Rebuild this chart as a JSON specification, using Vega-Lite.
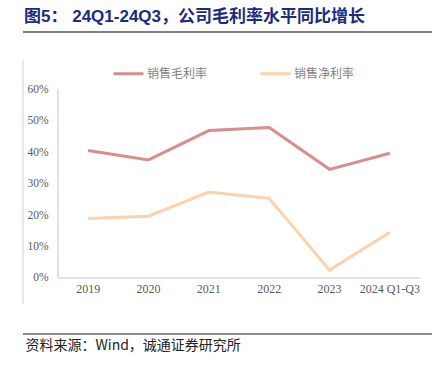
{
  "$schema": "https://vega.github.io/schema/vega-lite/v6.json",
  "width": 409,
  "height": 302,
  "autosize": {"type": "none"},
  "padding": {"left": 23, "top": 32, "right": 6, "bottom": 33},
  "background": "white",
  "title": {
    "text": "图5：  24Q1-24Q3，公司毛利率水平同比增长",
    "anchor": "start",
    "offset": 5,
    "dx": 2,
    "font": "Liberation Sans, Noto Sans CJK SC",
    "fontSize": 17,
    "fontWeight": "bold",
    "color": "#1b2c7e"
  },
  "config": {"view": {"stroke": null}},
  "data": {
    "values": [
      {"year": "2019", "metric": "销售毛利率", "value": 0.405},
      {"year": "2020", "metric": "销售毛利率", "value": 0.375},
      {"year": "2021", "metric": "销售毛利率", "value": 0.468},
      {"year": "2022", "metric": "销售毛利率", "value": 0.478},
      {"year": "2023", "metric": "销售毛利率", "value": 0.345},
      {"year": "2024 Q1-Q3", "metric": "销售毛利率", "value": 0.396},
      {"year": "2019", "metric": "销售净利率", "value": 0.189},
      {"year": "2020", "metric": "销售净利率", "value": 0.196},
      {"year": "2021", "metric": "销售净利率", "value": 0.273},
      {"year": "2022", "metric": "销售净利率", "value": 0.253},
      {"year": "2023", "metric": "销售净利率", "value": 0.025},
      {"year": "2024 Q1-Q3", "metric": "销售净利率", "value": 0.145}
    ]
  },
  "layer": [
    {
      "data": {"values": [{}]},
      "mark": {"type": "rule", "color": "#808080", "strokeWidth": 2},
      "encoding": {"y": {"datum": 0.781, "type": "quantitative"}}
    },
    {
      "data": {"values": [{}]},
      "mark": {"type": "rule", "color": "#8c8c8c", "strokeWidth": 2},
      "encoding": {"y": {"datum": -0.1778, "type": "quantitative"}}
    },
    {
      "data": {"values": [{}]},
      "mark": {"type": "rule", "color": "#d0d0d0", "strokeWidth": 1},
      "encoding": {
        "x": {"datum": "2019", "type": "nominal", "bandPosition": -0.58},
        "y": {"datum": 0.692, "type": "quantitative"},
        "y2": {"datum": -0.0825}
      }
    },
    {
      "data": {"values": [{}]},
      "mark": {"type": "rule", "color": "#d9d9d9", "strokeWidth": 1.5},
      "encoding": {
        "x": {"datum": "2019", "type": "nominal", "bandPosition": 0},
        "y": {"datum": 0, "type": "quantitative"},
        "y2": {"datum": 0.6}
      }
    },
    {
      "data": {"values": [{}]},
      "mark": {"type": "rule", "color": "#d9d9d9", "strokeWidth": 1.5},
      "encoding": {
        "y": {"datum": 0, "type": "quantitative"},
        "x": {"datum": "2019", "type": "nominal", "bandPosition": 0},
        "x2": {"datum": "2024 Q1-Q3", "bandPosition": 1}
      }
    },
    {
      "mark": {"type": "line", "strokeWidth": 3},
      "encoding": {
        "x": {
          "field": "year",
          "type": "nominal",
          "sort": null,
          "scale": {
            "type": "band",
            "domain": ["2019", "2020", "2021", "2022", "2023", "2024 Q1-Q3"],
            "paddingInner": 0,
            "paddingOuter": 0.3895,
            "align": 0.745
          },
          "axis": {
            "title": "资料来源：Wind，诚通证券研究所",
            "bandPosition": 0.5,
            "domain": false,
            "ticks": false,
            "grid": false,
            "labelAngle": 0,
            "labelAlign": "center",
            "labelOverlap": false,
            "labelBound": false,
            "labelFlush": false,
            "labelPadding": -46,
            "labelFont": "Liberation Serif",
            "labelFontSize": 12,
            "labelColor": "#595959",
            "titleFont": "Noto Sans CJK SC",
            "titleFontSize": 14,
            "titleFontWeight": "normal",
            "titleColor": "#222222",
            "titleAnchor": "start",
            "titleAlign": "left",
            "titleBaseline": "middle",
            "titleX": 2,
            "titleY": 11
          }
        },
        "y": {
          "field": "value",
          "type": "quantitative",
          "scale": {"domain": [-0.1778, 0.781], "nice": false, "zero": false},
          "axis": {
            "title": null,
            "values": [0, 0.1, 0.2, 0.3, 0.4, 0.5, 0.6],
            "format": ".0%",
            "domain": false,
            "ticks": false,
            "grid": false,
            "labelPadding": -25,
            "labelFont": "Liberation Serif",
            "labelFontSize": 11.5,
            "labelColor": "#595959"
          }
        },
        "color": {
          "field": "metric",
          "type": "nominal",
          "scale": {"domain": ["销售毛利率", "销售净利率"], "range": ["#d98d8d", "#fdd1aa"]},
          "legend": {
            "title": null,
            "orient": "none",
            "direction": "horizontal",
            "legendX": 89,
            "legendY": 25,
            "padding": 0,
            "symbolType": "stroke",
            "symbolSize": 900,
            "symbolStrokeWidth": 3,
            "labelFont": "Noto Sans CJK SC",
            "labelFontSize": 12,
            "labelColor": "#7f7f7f",
            "labelOffset": 2,
            "columnPadding": 46
          }
        }
      }
    }
  ]
}
